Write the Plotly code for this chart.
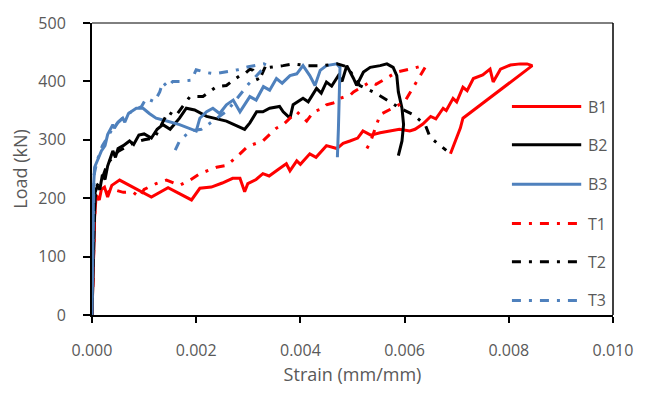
import plotly.graph_objects as go

# ---- measured load-strain curves (strain in mm/mm, load in kN) ----
b1_strain = [0, 0.00002, 0.00003, 0.00005, 0.00008, 0.00014, 0.00018, 0.00024, 0.0003, 0.00038,
             0.00053, 0.00114, 0.00146, 0.00191, 0.00207, 0.00229, 0.0025, 0.0027, 0.00284, 0.00293,
             0.00299, 0.00315, 0.00328, 0.0034, 0.0036, 0.00373, 0.0038, 0.00393, 0.0040, 0.00418,
             0.0043, 0.0045, 0.0047, 0.00482, 0.00495, 0.0051, 0.0052, 0.00535, 0.00553, 0.00572,
             0.0059, 0.0061, 0.0062, 0.00635, 0.0065, 0.0066, 0.00674, 0.0068, 0.00693, 0.0070,
             0.00712, 0.0072, 0.00732, 0.0075, 0.00764, 0.0077, 0.00784, 0.00803, 0.00822, 0.00835,
             0.00845, 0.00712, 0.00707, 0.00688]
b1_load = [0, 60, 120, 168, 205, 197, 215, 219, 202, 222,
           231, 202, 218, 197, 217, 219, 226, 234, 234, 211,
           225, 232, 242, 238, 251, 259, 247, 264, 258, 276,
           270, 290, 285, 294, 298, 303, 315, 308, 312, 315,
           318, 315, 318, 327, 340, 336, 354, 350, 371, 365,
           390, 384, 405, 411, 421, 399, 421, 428, 430, 430,
           427, 337, 320, 276]

b2_strain = [0, 0.00002, 0.00004, 0.00006, 0.0001, 0.00015, 0.0002, 0.00025, 0.0003, 0.0004,
             0.00045, 0.0005, 0.0006, 0.00072, 0.0008, 0.0009, 0.001, 0.00114, 0.00125, 0.00136,
             0.0015, 0.00168, 0.00181, 0.00197, 0.0022, 0.00258, 0.00293, 0.00303, 0.00316, 0.00328,
             0.00341, 0.0036, 0.00367, 0.0038, 0.00386, 0.00405, 0.00415, 0.00431, 0.0044, 0.0045,
             0.0046, 0.00473, 0.0048, 0.00489, 0.00502, 0.00508, 0.00521, 0.00534, 0.00553, 0.00566,
             0.00578, 0.00585, 0.00588, 0.00595, 0.00598, 0.00595, 0.00588]
b2_load = [0, 80, 160, 210, 220, 215, 240, 232, 255, 281,
           270, 285, 290, 298, 292, 308, 310, 303, 318, 326,
           318, 337, 354, 351, 340, 332, 318, 329, 348, 348,
           354, 357, 348, 337, 360, 371, 365, 388, 380, 399,
           392, 410, 400, 427, 405, 393, 416, 424, 427, 430,
           424, 410, 382, 354, 326, 298, 273]

b3_strain = [0, 0.00001, 0.00002, 0.00003, 0.00005, 0.0001, 0.00018, 0.00025, 0.0003, 0.0004,
             0.00043, 0.0005, 0.00059, 0.00063, 0.0007, 0.00085, 0.00098, 0.0011, 0.00123, 0.0014,
             0.00168, 0.002, 0.00207, 0.0022, 0.00232, 0.00245, 0.00258, 0.00271, 0.00284, 0.00303,
             0.00315, 0.00329, 0.00341, 0.00354, 0.00365, 0.0038, 0.00393, 0.00405, 0.00418, 0.00428,
             0.00438, 0.0045, 0.0047, 0.00476, 0.00475, 0.00473, 0.00471]
b3_load = [0, 80, 160, 220, 253, 265, 281, 290, 309, 326,
           320, 330, 337, 330, 345, 354, 354, 345, 337, 333,
           326, 315, 337, 348, 354, 345, 360, 368, 348, 374,
           368, 391, 385, 405, 397, 410, 413, 427, 410, 393,
           419, 427, 430, 424, 380, 320, 270]

t1_strain = [0, 0.00002, 0.00004, 0.00006, 0.0001, 0.0002, 0.0004, 0.0006, 0.00078, 0.00091,
             0.001, 0.00123, 0.00143, 0.00168, 0.00188, 0.00207, 0.00239, 0.00258, 0.00277, 0.00297,
             0.00309, 0.00328, 0.00341, 0.00354, 0.00367, 0.00386, 0.00393, 0.00412, 0.00425, 0.00444,
             0.0045, 0.00463, 0.0047, 0.00476, 0.00495, 0.00502, 0.00521, 0.00534, 0.00545, 0.00572,
             0.00585, 0.0061, 0.00623, 0.00636, 0.0064, 0.0060, 0.00553, 0.00534, 0.00521]
t1_load = [0, 70, 150, 195, 200, 205, 215, 210, 211, 202,
           215, 225, 231, 222, 231, 242, 253, 256, 270, 287,
           292, 298, 309, 320, 326, 343, 348, 332, 348, 354,
           360, 363, 365, 371, 376, 382, 393, 399, 395, 410,
           416, 421, 424, 427, 425, 365, 343, 295, 275]

t2_strain = [0, 0.00002, 0.00004, 0.00007, 0.0001, 0.0002, 0.0003, 0.0005, 0.0008, 0.001,
             0.0012, 0.00146, 0.0016, 0.00188, 0.00213, 0.00239, 0.00258, 0.00271, 0.00284, 0.00293,
             0.00303, 0.00309, 0.0032, 0.00335, 0.00341, 0.00367, 0.00386, 0.00412, 0.00444, 0.0047,
             0.0049, 0.00514, 0.0054, 0.00572, 0.00591, 0.00617, 0.0064, 0.00649, 0.0068]
t2_load = [0, 80, 170, 215, 222, 235, 260, 280, 295, 300,
           303, 348, 340, 374, 374, 391, 393, 402, 410, 413,
           421, 419, 400, 430, 424, 427, 430, 427, 427, 430,
           425, 393, 382, 365, 354, 343, 325, 304, 282]

t3_strain = [0, 0.00001, 0.00002, 0.00004, 0.0001, 0.0002, 0.0003, 0.0004, 0.0005, 0.00066,
             0.0008, 0.00095, 0.00104, 0.0012, 0.0013, 0.00136, 0.00145, 0.00155, 0.00168, 0.00191,
             0.002, 0.0022, 0.00236, 0.00258, 0.0028, 0.003, 0.0033, 0.00335, 0.0030, 0.0026,
             0.0021, 0.00188, 0.00168, 0.00155]
t3_load = [0, 90, 180, 240, 265, 290, 305, 320, 330, 343,
           350, 357, 371, 365, 382, 399, 390, 400, 400, 402,
           420, 415, 413, 416, 420, 425, 430, 428, 395, 350,
           318, 315, 298, 273]

RED = "#FF0000"
BLACK = "#000000"
BLUE = "#4F81BD"
DASHDOT = "9px,8px,3px,8px"
GREY = "#595959"
FONT = "Open Sans"
LINE_W = 3

series = [
    ("B1", b1_strain, b1_load, RED, "solid"),
    ("B2", b2_strain, b2_load, BLACK, "solid"),
    ("B3", b3_strain, b3_load, BLUE, "solid"),
    ("T1", t1_strain, t1_load, RED, DASHDOT),
    ("T2", t2_strain, t2_load, BLACK, DASHDOT),
    ("T3", t3_strain, t3_load, BLUE, DASHDOT),
]

fig = go.Figure()
for name, xs, ys, color, dash in series:
    fig.add_trace(go.Scatter(
        x=xs, y=ys, name=name, mode="lines",
        line=dict(color=color, width=LINE_W, dash=dash),
        showlegend=False,
    ))

# hand-built legend: long line samples with labels, stacked at the right
legend_y = [0.714, 0.583, 0.448, 0.313, 0.182, 0.050]
shapes = []
annotations = []
for (name, _, _, color, dash), ly in zip(series, legend_y):
    shapes.append(dict(type="line", xref="paper", yref="paper",
                       x0=0.806, x1=0.939, y0=ly, y1=ly,
                       line=dict(color=color, width=LINE_W, dash=dash)))
    annotations.append(dict(text=name, xref="paper", yref="paper",
                            x=0.948, y=ly, xanchor="left", yanchor="middle",
                            showarrow=False, font=dict(family=FONT, size=16, color=GREY)))

# plot-area frame (top and right edges)
shapes.append(dict(type="line", xref="paper", yref="paper", x0=0, x1=1, y0=1, y1=1,
                   line=dict(color="#000000", width=1)))
shapes.append(dict(type="line", xref="paper", yref="paper", x0=1, x1=1, y0=0, y1=1,
                   line=dict(color="#000000", width=1.5)))

fig.update_layout(
    width=649, height=394,
    margin=dict(l=92, r=36, t=20, b=77),
    paper_bgcolor="white", plot_bgcolor="white",
    font=dict(family=FONT, size=16, color=GREY),
    shapes=shapes, annotations=annotations,
)
fig.update_xaxes(
    range=[0, 0.010], dtick=0.002, tickformat=".3f",
    ticks="outside", ticklen=6, tickwidth=2, tickcolor="black",
    showline=True, linecolor="black", linewidth=2,
    showgrid=False, zeroline=False,
    tickfont=dict(family=FONT, size=16, color=GREY),
    ticklabelstandoff=14,
    title=dict(text="Strain (mm/mm)", font=dict(family=FONT, size=18, color=GREY), standoff=8),
)
fig.update_yaxes(
    range=[0, 500], dtick=100,
    ticks="outside", ticklen=7, tickwidth=2, tickcolor="black",
    showline=True, linecolor="black", linewidth=2,
    showgrid=False, zeroline=False,
    tickfont=dict(family=FONT, size=16, color=GREY),
    ticklabelstandoff=14,
    title=dict(text="Load (kN)", font=dict(family=FONT, size=18, color=GREY), standoff=6),
)

fig.write_html("out.html")
